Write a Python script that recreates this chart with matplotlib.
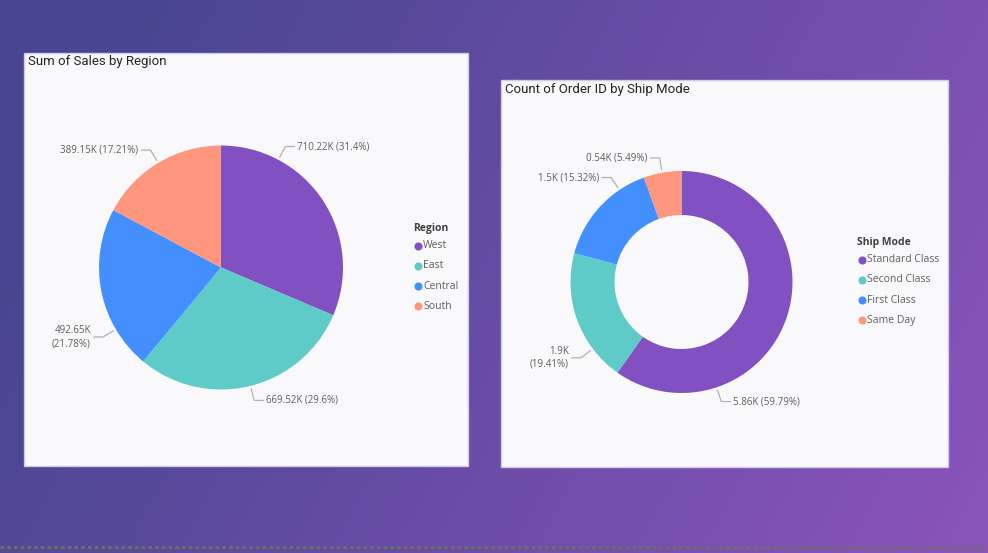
import numpy as np
import matplotlib
matplotlib.use('Agg')
import matplotlib.pyplot as plt
from matplotlib.patches import Rectangle

# data
regions = ['West', 'East', 'Central', 'South']
sales = [710219.68, 669518.73, 492646.91, 389151.46]

ship_modes = ['Standard Class', 'Second Class', 'First Class', 'Same Day']
order_counts = [5859, 1902, 1501, 538]

colors = ['#8150C1', '#5ECBC8', '#438FFF', '#FF977E']

W, H = 988, 553
TXT = '#605E5C'
LINE = '#B3B0AD'


def fmt_k(v):
    s = '{:.2f}'.format(v / 1000).rstrip('0').rstrip('.')
    return s + 'K'


def fmt_pct(v, total):
    s = '{:.2f}'.format(v / total * 100).rstrip('0').rstrip('.')
    return '(' + s + '%)'


def py(y):
    # pixel row (from top) -> data y
    return H - y


def draw_panel(ax, x0, y0, x1, y1, title):
    ax.add_patch(Rectangle((x0, py(y1)), x1 - x0, y1 - y0, facecolor='#F9F9FC',
                           edgecolor='#CFC8E6', lw=1.0, zorder=1))
    ax.text(x0 + 4, py(y0 + 9), title, fontsize=9.5, color='#252423',
            family='Roboto', va='center', ha='left', zorder=5)


def draw_labels(ax, cx, cy, r, values, angles, wrap):
    total = sum(values)
    for v, a, w in zip(values, angles, wrap):
        t = np.deg2rad(a)
        c, s = np.cos(t), np.sin(t)
        x1, y1 = cx + (r + 3) * c, py(cy) + (r + 3) * s
        x2, y2 = cx + (r + 15) * c, py(cy) + (r + 15) * s
        side = 1 if c >= 0 else -1
        x3 = x2 + 9 * side
        ax.plot([x1, x2, x3], [y1, y2, y2], color=LINE, lw=0.9, zorder=4,
                solid_joinstyle='miter')
        sep = '\n' if w else ' '
        lab = fmt_k(v) + sep + fmt_pct(v, total)
        ax.text(x3 + 3 * side, y2, lab, fontsize=7, color=TXT, family='Open Sans',
                ha='left' if side > 0 else 'right', va='center',
                multialignment='left' if side > 0 else 'right',
                linespacing=1.25, zorder=5)


def draw_legend(ax, x, y, title, names):
    ax.text(x - 5, py(y + 1), title, fontsize=7.5, fontweight='bold', color='#404040',
            family='Open Sans', va='center', ha='left', zorder=5)
    for i, n in enumerate(names):
        yy = py(y + 17.5 + i * 20.3)
        ax.scatter([x], [yy], s=34, color=colors[i], zorder=5, linewidths=0)
        ax.text(x + 5, yy, n, fontsize=7.5, color=TXT, family='Open Sans',
                va='center', ha='left', zorder=5)


fig = plt.figure(figsize=(W / 100, H / 100), dpi=100)
ax = fig.add_axes([0, 0, 1, 1])
ax.set_xlim(0, W)
ax.set_ylim(0, H)
ax.axis('off')

# background gradient (row 0 = top of picture)
gx, gy = np.meshgrid(np.linspace(0, 1, 300), np.linspace(0, 1, 170))
t = np.clip(gx * 0.85 + gy * 0.25 - 0.12, 0, 1)[..., None]
c0 = np.array([72, 70, 144]) / 255
c1 = np.array([140, 84, 190]) / 255
grad = c0 + (c1 - c0) * t
ax.imshow(grad, extent=[0, W, 0, H], origin='upper', aspect='auto', zorder=0)

ax.plot([0, W], [py(547), py(547)], color='#6B6F66', lw=2.2,
        linestyle=(0, (1.2, 1.0)), zorder=1)

# left: pie
draw_panel(ax, 24, 53, 468, 466, 'Sum of Sales by Region')
pc = (221, 267.5)
pr = 122
ax.pie(sales, colors=colors, startangle=90, counterclock=False,
       center=(pc[0], py(pc[1])), radius=pr, frame=True,
       wedgeprops=dict(linewidth=0, zorder=3))
draw_labels(ax, pc[0], pc[1], pr, sales, [62, -76, 210.5, 121],
            [False, False, True, False])
draw_legend(ax, 418, 228, 'Region', regions)

# right: donut
draw_panel(ax, 501, 80, 948, 467, 'Count of Order ID by Ship Mode')
dc = (681.5, 282)
dr = 111
ax.pie(order_counts, colors=colors, startangle=90, counterclock=False,
       center=(dc[0], py(dc[1])), radius=dr, frame=True,
       wedgeprops=dict(width=44, linewidth=0, zorder=3))
draw_labels(ax, dc[0], dc[1], dr, order_counts, [-71.6, 217, 124, 100],
            [False, True, False, False])
draw_legend(ax, 862, 242, 'Ship Mode', ship_modes)

ax.set_xlim(0, W)
ax.set_ylim(0, H)
ax.set_aspect('auto')
ax.axis('off')

fig.savefig('out.png', dpi=100)
